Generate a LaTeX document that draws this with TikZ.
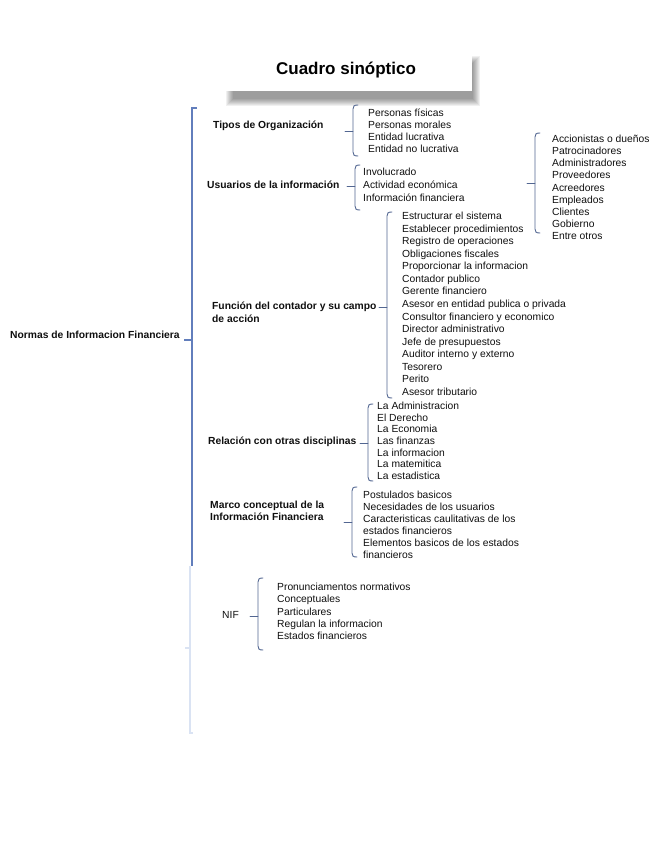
\documentclass[tikz,border=0pt]{standalone}
\usepackage{fontspec}
\setmainfont{Liberation Sans}
\definecolor{txt}{RGB}{15,15,15}
\definecolor{bracecol}{RGB}{82,102,145}
\definecolor{mainblue}{RGB}{98,126,188}
\definecolor{lightblue}{RGB}{218,227,243}
\newcommand\mybrace[4]{%
  \draw[subbrace] (#1+5,#2) .. controls (#1+1,#2) and (#1,#2+1) .. (#1,#2+4)
    -- (#1,#3-4) .. controls (#1,#3-1) and (#1+1,#3) .. (#1+5,#3);
  \draw[subbrace] (#1,#4) -- ++(-8,0);}
\begin{document}
\begin{tikzpicture}[x=1pt,y=-1pt,
  item/.style={anchor=west,inner sep=0pt,font=\fontsize{10.3}{12}\selectfont,text=txt,text height=7pt,text depth=2pt},
  head/.style={item,font=\fontsize{10.3}{12}\selectfont\bfseries},
  headtwo/.style={anchor=west,inner sep=0pt,align=left,text=txt,font=\fontsize{10.3}{12.5}\selectfont\bfseries},
  subbrace/.style={draw=bracecol,line width=0.9pt,line cap=round},
  mainbrace/.style={draw=mainblue,line width=2pt},
  lightbrace/.style={draw=lightblue,line width=2.6pt}]
\useasboundingbox (0,0) rectangle (655,848);
% title box with soft shadow
\foreach \k in {0,...,7}
  \fill[black,opacity=0.06] (226+\k,56+\k) rectangle (480-\k,106-\k);
\fill[white] (224,47) rectangle (472,91);
\node[inner sep=0pt,font=\fontsize{17}{20}\selectfont\bfseries,text=black] (title) at (346,70) {Cuadro sinóptico};
% root
\node[head] (root) at (10,336) {Normas de Informacion Financiera};
\draw[mainbrace] (197,108) -- (192,108) -- (192,566);
\draw[mainbrace] (192,340) -- (184,340);
\draw[lightbrace] (190,566) -- (190,733) -- (193,733);
\draw[lightbrace] (190,648) -- (185,648);
% Tipos de Organizacion
\node[head] (tipos) at (213,126) {Tipos de Organización};
\mybrace{353}{105}{156}{131}
\foreach \t [count=\i] in {Personas físicas,Personas morales,Entidad lucrativa,Entidad no lucrativa}
  \node[item] (tipos\i) at (368,{114+12*(\i-1)}) {\t};
% Usuarios
\node[head] (usu) at (207,186) {Usuarios de la información};
\mybrace{355}{165}{210}{186}
\foreach \t [count=\i] in {Involucrado,Actividad económica,Información financiera}
  \node[item] (usu\i) at (363,{173+13*(\i-1)}) {\t};
\mybrace{535}{133}{233}{183}
\foreach \t [count=\i] in {Accionistas o dueños,Patrocinadores,Administradores,Proveedores,Acreedores,Empleados,Clientes,Gobierno,Entre otros}
  \node[item] (usr\i) at (552,{140+12.15*(\i-1)}) {\t};
% Funcion del contador
\node[headtwo] (fun) at (212,312.5) {Función del contador y su campo\\de acción};
\mybrace{387}{212}{398}{307}
\foreach \t [count=\i] in {Estructurar el sistema,Establecer procedimientos,Registro de operaciones,Obligaciones fiscales,Proporcionar la informacion,Contador publico,Gerente financiero,Asesor en entidad publica o privada,Consultor financiero y economico,Director administrativo,Jefe de presupuestos,Auditor interno y externo,Tesorero,Perito,Asesor tributario}
  \node[item] (fun\i) at (402,{217+12.57*(\i-1)}) {\t};
% Relacion con otras disciplinas
\node[head] (rel) at (208,442) {Relación con otras disciplinas};
\mybrace{368}{404}{481}{443}
\foreach \t [count=\i] in {La Administracion,El Derecho,La Economia,Las finanzas,La informacion,La matemitica,La estadistica}
  \node[item] (rel\i) at (377,{407+11.67*(\i-1)}) {\t};
% Marco conceptual
\node[headtwo] (mar) at (210,511) {Marco conceptual de la\\Información Financiera};
\mybrace{352}{487}{557}{522}
\foreach \t [count=\i] in {Postulados basicos,Necesidades de los usuarios,Caracteristicas caulitativas de los,estados financieros,Elementos basicos de los estados,financieros}
  \node[item] (mar\i) at (363,{496+11.9*(\i-1)}) {\t};
% NIF
\node[item] (nif) at (222,616) {NIF};
\mybrace{258}{578}{650}{616}
\foreach \t [count=\i] in {Pronunciamentos normativos,Conceptuales,Particulares,Regulan la informacion,Estados financieros}
  \node[item] (nif\i) at (277,{588+12.25*(\i-1)}) {\t};
\end{tikzpicture}
\end{document}
